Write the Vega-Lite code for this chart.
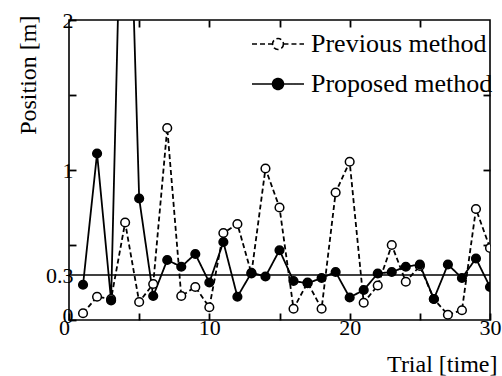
{
  "$schema": "https://vega.github.io/schema/vega-lite/v6.json",
  "width": 421,
  "height": 300,
  "autosize": "none",
  "padding": {"left": 69, "top": 20, "right": 12, "bottom": 56},
  "background": "white",
  "config": {
    "view": {"stroke": "black", "strokeWidth": 1.6},
    "font": "Liberation Serif",
    "axis": {
      "domain": false,
      "grid": false,
      "ticks": true,
      "tickColor": "black",
      "tickWidth": 1.8,
      "tickSize": -7,
      "labelFont": "Liberation Serif",
      "labelFontSize": 22,
      "labelColor": "black",
      "titleFont": "Liberation Serif",
      "titleFontSize": 24,
      "titleFontWeight": "normal",
      "titleColor": "black",
      "labelOverlap": false,
      "labelFlush": false,
      "labelBound": false,
      "zindex": 1
    },
    "legend": {
      "orient": "top-right",
      "offset": -3,
      "padding": 0,
      "title": null,
      "symbolType": "M-1,0L-0.21,0M0.21,0L1,0M0.21,0A0.21,0.21 0 1 1 -0.21,0A0.21,0.21 0 1 1 0.21,0",
      "symbolSize": 2704,
      "symbolStrokeColor": "black",
      "symbolStrokeWidth": 1.6,
      "labelFont": "Liberation Serif",
      "labelFontSize": 26,
      "labelColor": "black",
      "labelOffset": 6,
      "labelLimit": 300,
      "rowPadding": -40
    }
  },
  "data": {
    "values": [
      {"trial": 1, "position": 0.045, "method": "Previous method"},
      {"trial": 2, "position": 0.155, "method": "Previous method"},
      {"trial": 3, "position": 0.14, "method": "Previous method"},
      {"trial": 4, "position": 0.65, "method": "Previous method"},
      {"trial": 5, "position": 0.12, "method": "Previous method"},
      {"trial": 6, "position": 0.24, "method": "Previous method"},
      {"trial": 7, "position": 1.28, "method": "Previous method"},
      {"trial": 8, "position": 0.16, "method": "Previous method"},
      {"trial": 9, "position": 0.22, "method": "Previous method"},
      {"trial": 10, "position": 0.085, "method": "Previous method"},
      {"trial": 11, "position": 0.58, "method": "Previous method"},
      {"trial": 12, "position": 0.64, "method": "Previous method"},
      {"trial": 13, "position": 0.31, "method": "Previous method"},
      {"trial": 14, "position": 1.01, "method": "Previous method"},
      {"trial": 15, "position": 0.75, "method": "Previous method"},
      {"trial": 16, "position": 0.075, "method": "Previous method"},
      {"trial": 17, "position": 0.25, "method": "Previous method"},
      {"trial": 18, "position": 0.075, "method": "Previous method"},
      {"trial": 19, "position": 0.85, "method": "Previous method"},
      {"trial": 20, "position": 1.055, "method": "Previous method"},
      {"trial": 21, "position": 0.115, "method": "Previous method"},
      {"trial": 22, "position": 0.23, "method": "Previous method"},
      {"trial": 23, "position": 0.5, "method": "Previous method"},
      {"trial": 24, "position": 0.255, "method": "Previous method"},
      {"trial": 25, "position": 0.36, "method": "Previous method"},
      {"trial": 26, "position": 0.14, "method": "Previous method"},
      {"trial": 27, "position": 0.035, "method": "Previous method"},
      {"trial": 28, "position": 0.065, "method": "Previous method"},
      {"trial": 29, "position": 0.74, "method": "Previous method"},
      {"trial": 30, "position": 0.48, "method": "Previous method"},
      {"trial": 1, "position": 0.235, "method": "Proposed method"},
      {"trial": 2, "position": 1.11, "method": "Proposed method"},
      {"trial": 3, "position": 0.13, "method": "Proposed method"},
      {"trial": 4, "position": 4.0, "method": "Proposed method"},
      {"trial": 5, "position": 0.81, "method": "Proposed method"},
      {"trial": 6, "position": 0.16, "method": "Proposed method"},
      {"trial": 7, "position": 0.4, "method": "Proposed method"},
      {"trial": 8, "position": 0.355, "method": "Proposed method"},
      {"trial": 9, "position": 0.44, "method": "Proposed method"},
      {"trial": 10, "position": 0.25, "method": "Proposed method"},
      {"trial": 11, "position": 0.52, "method": "Proposed method"},
      {"trial": 12, "position": 0.155, "method": "Proposed method"},
      {"trial": 13, "position": 0.315, "method": "Proposed method"},
      {"trial": 14, "position": 0.29, "method": "Proposed method"},
      {"trial": 15, "position": 0.465, "method": "Proposed method"},
      {"trial": 16, "position": 0.26, "method": "Proposed method"},
      {"trial": 17, "position": 0.245, "method": "Proposed method"},
      {"trial": 18, "position": 0.28, "method": "Proposed method"},
      {"trial": 19, "position": 0.32, "method": "Proposed method"},
      {"trial": 20, "position": 0.15, "method": "Proposed method"},
      {"trial": 21, "position": 0.2, "method": "Proposed method"},
      {"trial": 22, "position": 0.31, "method": "Proposed method"},
      {"trial": 23, "position": 0.32, "method": "Proposed method"},
      {"trial": 24, "position": 0.355, "method": "Proposed method"},
      {"trial": 25, "position": 0.37, "method": "Proposed method"},
      {"trial": 26, "position": 0.14, "method": "Proposed method"},
      {"trial": 27, "position": 0.37, "method": "Proposed method"},
      {"trial": 28, "position": 0.28, "method": "Proposed method"},
      {"trial": 29, "position": 0.41, "method": "Proposed method"},
      {"trial": 30, "position": 0.22, "method": "Proposed method"}
    ]
  },
  "resolve": {
    "scale": {"x": "independent", "y": "independent"},
    "axis": {"x": "independent", "y": "independent"}
  },
  "layer": [
    {
      "data": {"values": [{"reference": 0.3}]},
      "mark": {"type": "rule", "color": "black", "strokeWidth": 1.5},
      "encoding": {
        "y": {"field": "reference", "type": "quantitative", "scale": {"domain": [0, 2], "nice": false, "zero": false}, "axis": null}
      }
    },
    {
      "mark": {"type": "line", "color": "black", "strokeWidth": 1.8, "clip": true},
      "encoding": {
        "x": {
          "field": "trial", "type": "quantitative",
          "scale": {"domain": [0, 30], "nice": false, "zero": false},
          "axis": {
            "orient": "bottom",
            "values": [0, 5, 10, 15, 20, 25, 30],
            "labelExpr": "datum.value % 10 == 0 ? datum.label : ''",
            "labelPadding": 4,
            "labelOffset": {"condition": {"test": "datum.value == 0", "value": -5}, "value": 0},
            "title": "Trial [time]",
            "titleX": 428,
            "titleY": 51,
            "titleAlign": "right",
            "titleBaseline": "alphabetic"
          }
        },
        "y": {
          "field": "position", "type": "quantitative",
          "scale": {"domain": [0, 2], "nice": false, "zero": false},
          "axis": {
            "orient": "left",
            "values": [0, 0.3, 0.5, 1, 1.5, 2],
            "labelExpr": "datum.value == 0.5 || datum.value == 1.5 ? '' : format(datum.value, '~g')",
            "tickOpacity": {"condition": {"test": "datum.value == 0.3", "value": 0}, "value": 1},
            "labelPadding": 3,
            "labelOffset": {"condition": {"test": "datum.value == 0", "value": -5}, "value": 0},
            "title": "Position [m]",
            "titleX": -34,
            "titleY": -5,
            "titleAngle": -90,
            "titleAlign": "right",
            "titleBaseline": "alphabetic"
          }
        },
        "strokeDash": {
          "field": "method", "type": "nominal",
          "scale": {"domain": ["Previous method", "Proposed method"], "range": [[5, 3], [1, 0]]}
        }
      }
    },
    {
      "mark": {"type": "point", "shape": "circle", "filled": true, "stroke": "black", "strokeWidth": 1.5, "opacity": 1, "clip": true, "size": 75},
      "encoding": {
        "x": {
          "field": "trial", "type": "quantitative",
          "scale": {"domain": [0, 30], "nice": false, "zero": false},
          "axis": {"orient": "top", "values": [5, 10, 15, 20, 25], "labels": false, "title": null}
        },
        "y": {
          "field": "position", "type": "quantitative",
          "scale": {"domain": [0, 2], "nice": false, "zero": false},
          "axis": {"orient": "right", "values": [0.5, 1, 1.5], "labels": false, "title": null}
        },
        "fill": {
          "field": "method", "type": "nominal",
          "scale": {"domain": ["Previous method", "Proposed method"], "range": ["white", "black"]}
        }
      }
    }
  ]
}
